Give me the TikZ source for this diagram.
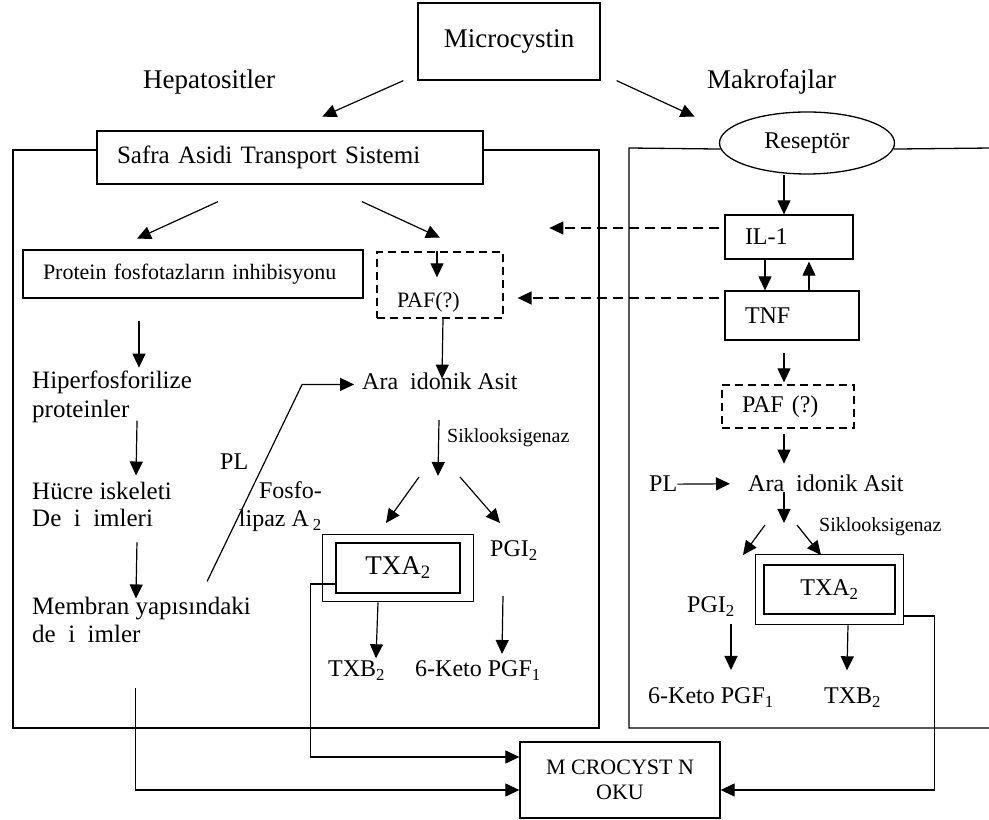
\documentclass[tikz,border=0pt]{standalone}
\usepackage{fontspec}
\setmainfont{Liberation Serif}
\usetikzlibrary{shapes.geometric, arrows.meta, positioning, fit}

\begin{document}
\begin{tikzpicture}[
    x=1pt, y=1pt,
    % text styles
    txt/.style={font=\fontsize{24}{28}\selectfont, inner sep=0pt, anchor=base west, align=left},
    big_txt/.style={txt, font=\fontsize{27}{30}\selectfont},
    small_txt/.style={txt, font=\fontsize{20}{24}\selectfont},
    % boxes
    box/.style={draw, line width=1.3pt, inner ysep=0pt, inner xsep=20pt, align=left, font=\fontsize{24}{28}\selectfont},
    dash_box/.style={box, dash pattern=on 8pt off 5pt},
    frame/.style={draw, line width=1.3pt},
    % arrows
    arr/.style={-{Triangle[length=14pt,width=13pt]}, line width=1.2pt},
    dash_arr/.style={arr, dash pattern=on 10pt off 6pt, line width=1.5pt}
]
    \useasboundingbox (0,0) rectangle (989,820);

    % --- TOP ---
    \node[box, align=center, inner xsep=0pt, minimum width=182pt, minimum height=77pt, font=\fontsize{27}{30}\selectfont] (micro) at (509,778.5) {Microcystin};
    \node[big_txt] (hep_lbl) at (143,731) {Hepatositler};
    \node[big_txt] (mak_lbl) at (707,731) {Makrofajlar};

    % --- HEPATOSITLER ---
    \node[box, minimum width=386pt, minimum height=53pt, text width=346pt, font=\fontsize{25}{28}\selectfont] (safra) at (290,662.5) {Safra Asidi Transport Sistemi};
    \node[box, minimum width=340pt, minimum height=48pt, text width=300pt, font=\fontsize{22}{26}\selectfont] (protein) at (193,546) {Protein fosfotazların inhibisyonu};
    \node[dash_box, text width=86pt, text height=56pt, text depth=10pt, font=\fontsize{22}{26}\selectfont] (paf_l) at (440,535) {PAF(?)};

    % multi-line labels sit on their last line
    \node[txt, font=\fontsize{25}{29}\selectfont] (hiper) at (32,402) {Hiperfosforilize\\proteinler};
    \node[txt, font=\fontsize{25}{27}\selectfont] (hucre) at (32,293) {Hücre iskeleti\\De\ \ i\ \ imleri};
    \node[txt, font=\fontsize{25}{28}\selectfont] (membran) at (32,177) {Membran yapısındaki\\de\ \ i\ \ imler};

    \node[txt] (pl_l) at (220,350) {PL};
    \node[txt, anchor=base east, align=right] (fosfo) at (322,293) {Fosfo-\\lipaz A\,\textsubscript{2}};

    \node[txt] (ara_l) at (362,430) {Ara\ \ idonik Asit};
    \node[small_txt] (sikl_l) at (447,377) {Siklooksigenaz};

    \node[box, align=center, inner xsep=0pt, minimum width=124pt, minimum height=50pt, font=\fontsize{27}{30}\selectfont] (txa_l) at (398,252) {TXA\textsubscript{2}};
    \node[frame, fit=(txa_l), inner xsep=13pt, inner ysep=8pt] (txa_l_out) {};
    \node[txt] (pgi_l) at (490,263) {PGI\textsubscript{2}};
    \node[txt] (txb_l) at (328,143) {TXB\textsubscript{2}};
    \node[txt] (keto_l) at (415,143) {6-Keto PGF\textsubscript{1}};

    % --- MAKROFAJLAR ---
    \node[ellipse, draw, line width=1.3pt, minimum width=175pt, minimum height=62pt, inner sep=0pt, font=\fontsize{24}{28}\selectfont] (resep) at (807,677) {Reseptör};
    \node[box, minimum width=128pt, minimum height=44pt, text width=88pt] (il1) at (789,583) {IL-1};
    \node[box, minimum width=134pt, minimum height=49pt, text width=94pt] (tnf) at (792,504.5) {TNF};
    \node[dash_box, minimum width=132pt, minimum height=43pt, text width=92pt] (paf_r) at (788,413.5) {PAF (?)};

    \node[txt] (pl_r) at (649,328) {PL};
    \node[txt] (ara_r) at (748,328) {Ara\ \ idonik Asit};
    \node[small_txt] (sikl_r) at (819,288) {Siklooksigenaz};

    \node[box, align=center, inner xsep=0pt, minimum width=131pt, minimum height=49pt] (txa_r) at (829.5,230.5) {TXA\textsubscript{2}};
    \node[frame, fit=(txa_r), inner xsep=8pt, inner ysep=10pt] (txa_r_out) {};
    \node[txt] (pgi_r) at (687,207) {PGI\textsubscript{2}};
    \node[txt] (keto_r) at (648,116) {6-Keto PGF\textsubscript{1}};
    \node[txt] (txb_r) at (824,116) {TXB\textsubscript{2}};

    % --- SONUC ---
    \node[box, align=center, inner xsep=0pt, minimum width=200pt, minimum height=76pt, font=\fontsize{22}{25}\selectfont] (oku) at (620,40) {M CROCYST N\\OKU};

    % --- FRAMES ---
    \draw[frame] (safra.west |- 0,670) -- (13,670) -- (13,92) -- (599,92) -- (599,670) -- (safra.east |- 0,670);
    \draw[frame] (resep.184) -- (629,672) -- (629,92) -- (992,92);
    \draw[frame] (resep.356) -- (992,672);

    % --- CONNECTIONS ---
    \draw[arr] ([xshift=-14pt]micro.south west) -- ++(-81,-36);
    \draw[arr] ([xshift=16pt]micro.south east) -- ++(78,-36);

    % hepatositler
    \draw[arr] ([xshift=-72pt,yshift=-17pt]safra.south) -- ++(-81,-37);
    \draw[arr] ([xshift=72pt,yshift=-17pt]safra.south) -- ++(78,-36);
    \draw[arr] ([xshift=-3pt]paf_l.north) -- ++(0,-26);
    \draw[arr] ([xshift=3pt]paf_l.south) -- ++(-1,-60);
    \draw[arr] ([xshift=-54pt,yshift=-22pt]protein.south) -- ++(0,-47);
    \draw[arr] ([xshift=25pt,yshift=3pt]hiper.south) -- ++(-1,-55);
    \draw[arr] ([xshift=35pt,yshift=-15pt]hucre.south) -- ++(-1,-56);
    \draw[arr] ([xshift=-44pt,yshift=16pt]membran.north east) -- ++(95,197) -- ++(52,0);
    \draw[arr] ([xshift=77pt,yshift=-30pt]ara_l.base west) -- ++(-1,-56);
    \draw[arr] ([xshift=57pt,yshift=-87pt]ara_l.base west) -- ++(-33,-46);
    \draw[arr] ([xshift=98pt,yshift=-87pt]ara_l.base west) -- ++(40,-46);
    \draw[arr] ([xshift=-20pt]txa_l_out.south) -- ++(-2,-56);
    \draw[arr] ([xshift=13pt,yshift=-39pt]pgi_l.base west) -- ++(-1,-58);

    % makrofajlar
    \draw[arr] ([xshift=-23pt]resep.south) -- ([xshift=-5pt]il1.north);
    \draw[arr] ([xshift=-24pt]il1.south) -- ([xshift=-27pt]tnf.north);
    \draw[arr, shorten >=2pt] ([xshift=17pt]tnf.north) -- ([xshift=20pt]il1.south);
    \draw[dash_arr] ([xshift=-5pt,yshift=9pt]il1.west) -- ++(-170,0);
    \draw[dash_arr] ([xshift=-5pt,yshift=17.5pt]tnf.west) -- ([xshift=14pt,yshift=-13pt]paf_l.east);
    \draw[arr] ([xshift=-8pt,yshift=-12pt]tnf.south) -- ([xshift=-4pt,yshift=2pt]paf_r.north);
    \draw[arr] ([xshift=-4pt,yshift=-5pt]paf_r.south) -- ++(0,-30);
    \draw[arr] (pl_r.east) -- ([xshift=-18pt]ara_r.west);
    \draw[arr] ([xshift=36pt]ara_r.base west) -- ++(0,-31);
    \draw[arr] ([xshift=17pt,yshift=-33pt]ara_r.base west) -- ++(-22,-30);
    \draw[arr] ([xshift=49pt,yshift=-33pt]ara_r.base west) -- ++(24,-30);
    \draw[arr] ([xshift=44pt,yshift=-11pt]pgi_r.base west) -- ++(0,-46);
    \draw[arr] ([xshift=18.5pt]txa_r_out.south) -- ++(-1,-45);

    % to result
    \draw[arr] ([yshift=-16pt]txa_l.west) -- ++(-25,0) |- ([yshift=23pt]oku.west);
    \draw[arr] ([xshift=-6pt,yshift=-45pt]membran.south) |- ([yshift=-10pt]oku.west);
    \draw[arr] ([yshift=-26.5pt]txa_r_out.east) -- ++(30,0) |- ([yshift=-10pt]oku.east);

\end{tikzpicture}
\end{document}
